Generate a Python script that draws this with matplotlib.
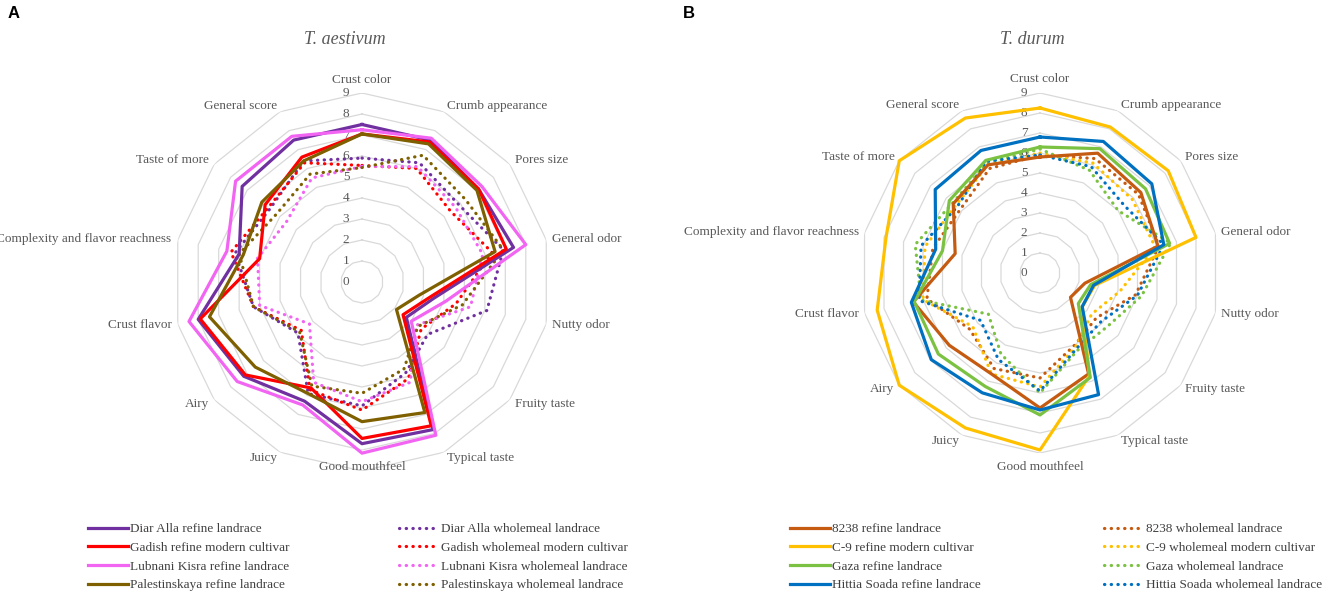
import numpy as np
import matplotlib
matplotlib.use('Agg')
import matplotlib.pyplot as plt

plt.rcParams['font.family'] = ['Liberation Serif', 'DejaVu Serif']

# Data
categories = ['Crust color', 'Crumb appearance', 'Pores size', 'General odor', 'Nutty odor',
              'Fruity taste', 'Typical taste', 'Good mouthfeel', 'Juicy', 'Airy', 'Crust flavor',
              'Complexity and flavor reachness', 'Taste of more', 'General score']
ticks = [0, 1, 2, 3, 4, 5, 6, 7, 8, 9]

# T. aestivum
diar_refine = [7.5, 7.5, 7.1, 7.4, 3.5, 2.7, 7.8, 7.7, 6.3, 7.2, 8.0, 6.0, 7.3, 7.5]
gadish_refine = [7.05, 7.4, 7.1, 7.05, 3.3, 2.5, 7.6, 7.45, 5.6, 7.1, 7.9, 5.0, 5.9, 6.6]
lubnani_refine = [7.25, 7.6, 7.3, 8.0, 4.1, 3.0, 8.1, 8.15, 6.5, 7.6, 8.45, 6.6, 7.7, 7.7]
palest_refine = [7.05, 7.3, 7.0, 6.5, 2.8, 2.1, 6.9, 6.65, 5.9, 6.5, 7.45, 5.8, 6.1, 6.4]
diar_whole = [5.9, 6.3, 5.9, 6.9, 6.1, 4.0, 4.8, 5.9, 5.9, 3.9, 5.3, 6.2, 5.6, 6.4]
gadish_whole = [5.55, 6.0, 5.4, 6.35, 4.6, 3.6, 5.1, 6.1, 5.7, 3.7, 5.3, 6.4, 5.7, 6.3]
lubnani_whole = [5.5, 6.1, 5.7, 5.9, 5.3, 3.3, 5.3, 5.7, 5.3, 3.2, 5.0, 5.1, 4.6, 5.5]
palest_whole = [5.45, 6.7, 6.3, 6.9, 4.9, 3.4, 4.6, 5.3, 5.5, 3.8, 5.3, 6.0, 5.2, 5.7]

# T. durum
c8238_refine = [5.8, 6.65, 6.45, 6.05, 2.3, 1.95, 5.6, 6.75, 5.6, 5.8, 6.5, 4.35, 5.55, 6.0]
c9_refine = [8.25, 8.1, 8.2, 8.0, 2.8, 2.7, 5.7, 8.85, 8.6, 9.0, 8.35, 7.9, 9.0, 8.6]
gaza_refine = [6.3, 6.9, 6.75, 6.65, 2.6, 2.45, 5.8, 7.1, 6.3, 6.5, 6.45, 5.0, 5.8, 6.25]
hittia_refine = [6.8, 7.3, 7.15, 6.35, 2.75, 2.7, 6.75, 6.85, 6.65, 6.95, 6.6, 5.35, 6.7, 6.8]
c8238_whole = [5.9, 6.35, 6.3, 6.1, 4.9, 3.6, 4.0, 5.25, 5.3, 4.5, 5.8, 5.5, 5.1, 5.8]
c9_whole = [6.0, 6.1, 5.9, 5.9, 4.1, 3.3, 4.1, 5.7, 5.6, 4.3, 6.0, 5.9, 5.4, 6.0]
gaza_whole = [6.2, 5.7, 5.0, 6.7, 5.2, 4.3, 4.3, 6.0, 4.5, 3.3, 6.1, 6.4, 5.6, 6.1]
hittia_whole = [5.9, 5.9, 5.4, 6.35, 5.0, 3.9, 4.2, 5.9, 4.8, 3.8, 6.2, 6.1, 5.3, 6.2]

aestivum_refine = [('Diar Alla refine landrace', diar_refine, '#7030A0'),
                   ('Gadish refine modern cultivar', gadish_refine, '#FF0000'),
                   ('Lubnani Kisra refine landrace', lubnani_refine, '#F264F2'),
                   ('Palestinskaya refine landrace', palest_refine, '#7F6000')]
aestivum_whole = [('Diar Alla wholemeal landrace', diar_whole, '#7030A0'),
                  ('Gadish wholemeal modern cultivar', gadish_whole, '#FF0000'),
                  ('Lubnani Kisra wholemeal landrace', lubnani_whole, '#F264F2'),
                  ('Palestinskaya wholemeal landrace', palest_whole, '#7F6000')]
durum_refine = [('8238 refine landrace', c8238_refine, '#C55A11'),
                ('C-9 refine modern cultivar', c9_refine, '#FFC000'),
                ('Gaza refine landrace', gaza_refine, '#7CC242'),
                ('Hittia Soada refine landrace', hittia_refine, '#0070C0')]
durum_whole = [('8238 wholemeal landrace', c8238_whole, '#C55A11'),
               ('C-9 wholemeal modern cultivar', c9_whole, '#FFC000'),
               ('Gaza wholemeal landrace', gaza_whole, '#7CC242'),
               ('Hittia Soada wholemeal landrace', hittia_whole, '#0070C0')]

W, H = 1325, 601
fig = plt.figure(figsize=(W / 100, H / 100), dpi=100)

theta = np.arange(len(categories)) * 2 * np.pi / len(categories)
theta_c = np.append(theta, theta[0])
text_grey = '#595959'


def radar(cx, cy, rad, title, title_x, refine, whole, top_r, bottom_r, leg_left, leg_right):
    ax = fig.add_axes([(cx - rad) / W, (H - cy - rad) / H, 2 * rad / W, 2 * rad / H], polar=True)
    ax.set_theta_zero_location('N')
    ax.set_theta_direction(-1)
    ax.set_ylim(0, 9)
    ax.grid(False)
    ax.spines['polar'].set_visible(False)
    ax.set_xticks([])
    ax.set_yticks([])
    ax.patch.set_alpha(0)

    # polygon rings
    for lev in ticks[1:]:
        ax.plot(theta_c, [lev] * len(theta_c), color='#D9D9D9', lw=0.9, zorder=1)
    for lev in ticks:
        ax.annotate(str(lev), xy=(0, lev), xytext=(-16, 0), textcoords='offset pixels',
                    ha='center', va='center', fontsize=9.5, color=text_grey)

    for i, cat in enumerate(categories):
        s = np.sin(theta[i])
        c = np.cos(theta[i])
        if abs(s) < 0.01:
            ha = 'center'
            r = top_r if c > 0 else bottom_r
        else:
            ha = 'left' if s > 0 else 'right'
            r = 9.3
        ax.text(theta[i], r, cat, ha=ha, va='center', fontsize=9.5, color=text_grey)

    h_ref = []
    for name, vals, col in refine:
        ln, = ax.plot(theta_c, vals + vals[:1], color=col, lw=2.3, label=name,
                      clip_on=False, zorder=3)
        h_ref.append(ln)
    h_wh = []
    for name, vals, col in whole:
        ln, = ax.plot(theta_c, vals + vals[:1], color=col, lw=2.3, label=name,
                      linestyle=(0, (0.1, 2.0)), dash_capstyle='round', clip_on=False, zorder=2)
        h_wh.append(ln)

    fig.text(title_x / W, 1 - 40 / H, title, ha='center', va='center', fontsize=13,
             style='italic', color=text_grey)

    for handles, xl in [(h_ref, leg_left), (h_wh, leg_right)]:
        leg = fig.legend(handles=handles, loc='upper left', bbox_to_anchor=(xl / W, 1 - 523 / H),
                         frameon=False, fontsize=9.5, handlelength=3.0, handletextpad=0.2,
                         labelspacing=0.49, borderpad=0, borderaxespad=0)
        for t in leg.get_texts():
            t.set_color('#404040')
    return ax


radar(362, 282, 189, 'T. aestivum', 345, aestivum_refine, aestivum_whole, 9.6, 8.8, 88, 399)
radar(1040, 273, 180, 'T. durum', 1032, durum_refine, durum_whole, 9.7, 9.7, 790, 1104)

fig.text(8 / W, 1 - 13 / H, 'A', fontsize=12, fontweight='bold', family='Liberation Sans',
         ha='left', va='center')
fig.text(683 / W, 1 - 13 / H, 'B', fontsize=12, fontweight='bold', family='Liberation Sans',
         ha='left', va='center')

fig.savefig('out.png', dpi=100)
